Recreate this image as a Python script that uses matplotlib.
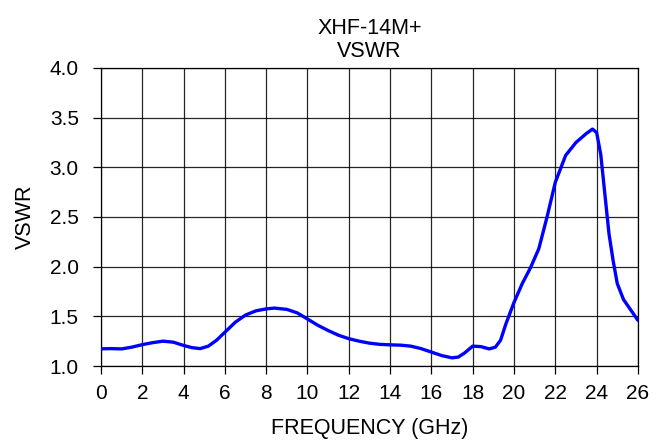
import matplotlib
matplotlib.use("Agg")
import matplotlib.pyplot as plt

freq = [0, 0.5, 1.0, 1.5, 2.0, 2.5, 3.0, 3.5, 4.0, 4.4, 4.8, 5.2, 5.6, 6.0, 6.5, 7.0, 7.5, 8.0, 8.4, 9.0,
        9.5, 10.0, 10.5, 11.0, 11.5, 12.0, 12.5, 13.0, 13.5, 14.0, 14.5, 15.0, 15.5, 16.0, 16.5, 17.0,
        17.3, 17.6, 18.0, 18.4, 18.8, 19.1, 19.35, 19.6, 19.8, 20.0, 20.4, 20.8, 21.2, 21.6, 22.0, 22.5,
        23.0, 23.5, 23.8, 24.0, 24.2, 24.4, 24.6, 24.8, 25.0, 25.3, 25.6, 26.0]
vswr = [1.173, 1.175, 1.172, 1.19, 1.215, 1.235, 1.25, 1.24, 1.207, 1.185, 1.175, 1.2, 1.26, 1.34, 1.44,
        1.513, 1.555, 1.575, 1.583, 1.57, 1.535, 1.473, 1.41, 1.357, 1.31, 1.275, 1.25, 1.23, 1.218,
        1.213, 1.21, 1.2, 1.175, 1.14, 1.105, 1.082, 1.09, 1.13, 1.2, 1.195, 1.172, 1.19, 1.26, 1.42,
        1.53, 1.64, 1.83, 1.99, 2.18, 2.5, 2.85, 3.12, 3.25, 3.34, 3.385, 3.35, 3.13, 2.73, 2.33, 2.06,
        1.83, 1.67, 1.58, 1.46]

xticks = list(range(0, 27, 2))
yticks = [1.0, 1.5, 2.0, 2.5, 3.0, 3.5, 4.0]

plt.rcParams['font.family'] = ['Liberation Sans', 'DejaVu Sans']

fig = plt.figure(figsize=(6.67, 4.47), dpi=100)
ax = fig.add_axes([0.1514, 0.1812, 0.805, 0.6667])
ax.plot(freq, vswr, color='#0000ff', lw=2.4, solid_joinstyle='round', solid_capstyle='round', zorder=3)
ax.set_xlim(0, 26)
ax.set_ylim(1.0, 4.0)
ax.set_xticks(xticks)
ax.set_yticks(yticks)
ax.set_yticklabels([f"{v:.1f}" for v in yticks])
ax.grid(True, color='#000000', lw=0.9, alpha=0.85)
for s in ax.spines.values():
    s.set_linewidth(0.9)
ax.tick_params(direction='out', length=6, width=0.9, labelsize=15)
ax.tick_params(axis='x', pad=7)
ax.tick_params(axis='y', pad=10)
ax.set_xlabel('FREQUENCY (GHz)', fontsize=15.5, labelpad=11)
ax.set_ylabel('VSWR', fontsize=15.5, labelpad=10)
ax.set_title('XHF-14M+\nVSWR', fontsize=15.5, pad=8, linespacing=1.1)
fig.savefig('out.png', dpi=100)
